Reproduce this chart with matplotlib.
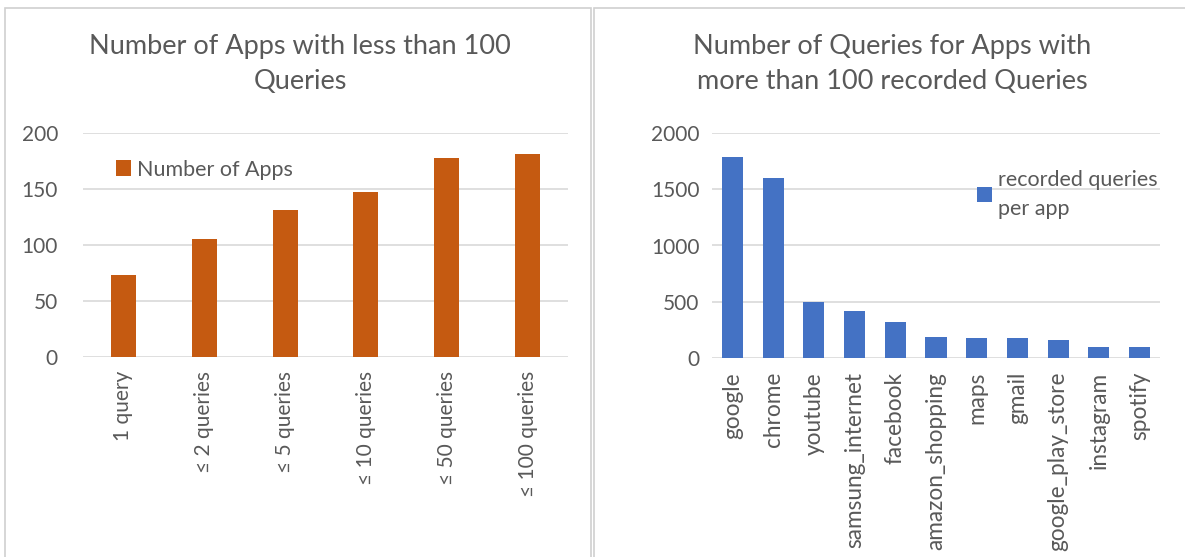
import matplotlib
matplotlib.use("Agg")
import matplotlib.pyplot as plt
from matplotlib.patches import Rectangle

# left chart data
bucket_labels = ["1 query", "≤ 2 queries", "≤ 5 queries", "≤ 10 queries", "≤ 50 queries", "≤ 100 queries"]
num_apps = [73, 105, 131, 147, 178, 181]

# right chart data
app_names = ["google", "chrome", "youtube", "samsung_internet", "facebook", "amazon_shopping",
             "maps", "gmail", "google_play_store", "instagram", "spotify"]
queries_per_app = [1790, 1598, 497, 416, 322, 185, 182, 182, 156, 102, 100]

ORANGE = "#C55A11"
BLUE = "#4472C4"
GRID = "#D9D9D9"
TEXT = "#595959"

plt.rcParams["font.family"] = ["Lato", "DejaVu Sans"]

fig = plt.figure(figsize=(11.85, 5.57), dpi=100)
fig.patch.set_facecolor("white")

# panel borders like in the Excel screenshot
W, H = 1185, 557
for x0, x1 in [(5, 591), (594, 1190)]:
    fig.add_artist(Rectangle((x0 / W, -0.05), (x1 - x0) / W, 1.05 - 8 / H,
                             transform=fig.transFigure, fill=False,
                             edgecolor="#D0D0D0", linewidth=1.2))


def style_axes(ax, ymax, step, ypad):
    ax.set_ylim(0, ymax)
    ax.set_yticks(range(0, ymax + 1, step))
    ax.grid(axis="y", color=GRID, linewidth=1.2)
    ax.set_axisbelow(True)
    for s in ax.spines.values():
        s.set_visible(False)
    ax.tick_params(axis="both", length=0, labelsize=15, labelcolor=TEXT)
    ax.tick_params(axis="y", pad=ypad)
    ax.tick_params(axis="x", pad=10)


ax1 = fig.add_axes([83 / W, 1 - 357 / H, (568 - 83) / W, (357 - 133) / H])
x1 = range(len(num_apps))
ax1.bar(x1, num_apps, width=0.31, color=ORANGE, label="Number of Apps")
ax1.set_xlim(-0.5, len(num_apps) - 0.5)
ax1.set_xticks(list(x1))
ax1.set_xticklabels(bucket_labels, rotation=90, va="top")
style_axes(ax1, 200, 50, 18)
ax1.legend(loc="upper left", bbox_to_anchor=(0.05, 0.92), frameon=False, fontsize=15.5,
           labelcolor=TEXT, handlelength=0.7, handleheight=0.7, handletextpad=0.3,
           borderaxespad=0)

ax2 = fig.add_axes([712 / W, 1 - 358 / H, (1160 - 712) / W, (358 - 133) / H])
x2 = range(len(queries_per_app))
ax2.bar(x2, queries_per_app, width=0.52, color=BLUE, label="recorded queries\nper app")
ax2.set_xlim(-0.5, len(queries_per_app) - 0.5)
ax2.set_xticks(list(x2))
ax2.set_xticklabels(app_names, rotation=90, va="top")
style_axes(ax2, 2000, 500, 9)
ax2.tick_params(axis="x", labelsize=16.3)
leg = ax2.legend(loc="upper left", bbox_to_anchor=(0.572, 0.875), frameon=False, fontsize=15.5,
                 labelcolor=TEXT, handlelength=0.7, handleheight=0.7, handletextpad=0.3,
                 borderaxespad=0)
for t in leg.get_texts():
    t.set_linespacing(1.55)

fig.text(300 / W, 1 - 64 / H, "Number of Apps with less than 100\nQueries", ha="center",
         va="center", fontsize=19.5, color=TEXT, linespacing=1.5)
fig.text(892 / W, 1 - 64 / H, "Number of Queries for Apps with\nmore than 100 recorded Queries",
         ha="center", va="center", fontsize=19.5, color=TEXT, linespacing=1.5)

fig.savefig("out.png", dpi=100)
